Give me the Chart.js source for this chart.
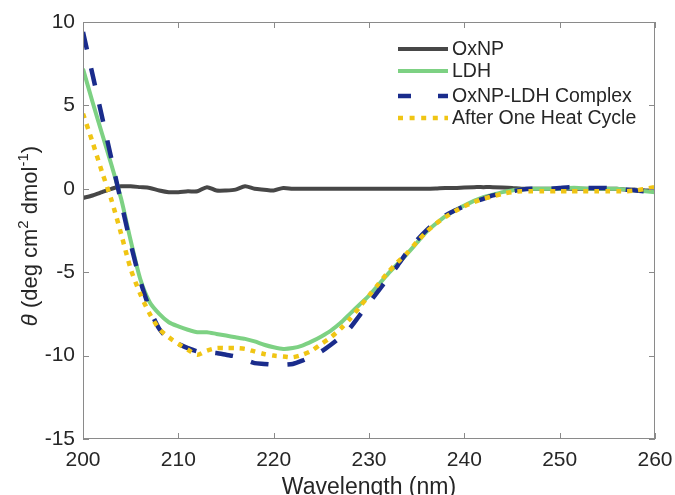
<!DOCTYPE html>
<html>
<head>
<meta charset="utf-8">
<script src="https://cdn.jsdelivr.net/npm/chart.js@4.4.1/dist/chart.umd.min.js"></script>
<style>
  html, body { margin: 0; padding: 0; background: #fff; }
  #wrap { width: 675px; height: 495px; }
</style>
</head>
<body>
<div id="wrap"><canvas id="cd"></canvas></div>
<script>
const wavelength = [
  200, 201, 202, 203, 204, 205, 206, 207, 208, 209,
  210, 211, 212, 213, 214, 215, 216, 217, 218, 219,
  220, 221, 222, 223, 224, 225, 226, 227, 228, 229,
  230, 231, 232, 233, 234, 235, 236, 237, 238, 239,
  240, 241, 242, 243, 244, 245, 246, 247, 248, 249,
  250, 251, 252, 253, 254, 255, 256, 257, 258, 259, 260
];

const oxnp = [
  -0.55, -0.4, -0.2, 0, 0.15, 0.15, 0.1, 0.05, -0.1, -0.2,
  -0.2, -0.15, -0.15, 0.1, -0.1, -0.1, -0.05, 0.15, 0, -0.05,
  -0.1, 0.05, 0, 0, 0, 0, 0, 0, 0, 0,
  0, 0, 0, 0, 0, 0, 0, 0.02, 0.05, 0.05,
  0.08, 0.1, 0.1, 0.1, 0.08, 0.05, 0, 0, 0, 0,
  0, 0, 0, 0, 0, 0, 0, -0.05, -0.05, -0.1, -0.1
];

const ldh = [
  7.2, 5.2, 3.3, 1.4, -0.6, -3.1, -5.4, -6.8, -7.5, -8.0,
  -8.25, -8.45, -8.6, -8.6, -8.7, -8.8, -8.9, -9.0, -9.15, -9.35,
  -9.5, -9.6, -9.55, -9.4, -9.15, -8.85, -8.5, -8.05, -7.5, -6.95,
  -6.4, -5.75, -5.1, -4.5, -3.9, -3.25, -2.6, -2.1, -1.65, -1.3,
  -1.0, -0.72, -0.5, -0.35, -0.2, -0.1, -0.05, 0, 0, 0,
  0, 0.05, 0.05, 0, 0, 0, 0, -0.05, -0.1, -0.15, -0.2
];

const complex = [
  9.4, 6.85, 4.3, 1.75, -0.8, -3.3, -5.5, -7.2, -8.4, -9.0,
  -9.3, -9.55, -9.75, -9.8, -9.85, -9.95, -10.05, -10.25, -10.45, -10.5,
  -10.55, -10.55, -10.5, -10.3, -10.05, -9.75, -9.35, -8.9, -8.35, -7.6,
  -6.85, -6.1, -5.35, -4.6, -3.8, -3.1, -2.5, -2.0, -1.6, -1.3,
  -1.05, -0.8, -0.6, -0.4, -0.25, -0.15, -0.05, 0, 0, 0,
  0.05, 0.1, 0.1, 0.05, 0.05, 0.05, 0, -0.05, -0.1, -0.15, -0.15
];

const heatCycle = [
  4.5, 2.8, 1.0, -0.7, -2.7, -4.8, -6.3, -7.5, -8.4, -8.9,
  -9.3, -9.65, -9.95, -9.7, -9.55, -9.55, -9.55, -9.6, -9.75, -9.9,
  -10.0, -10.05, -10.1, -9.95, -9.7, -9.3, -8.9, -8.4, -7.8, -7.1,
  -6.4, -5.7, -5.0, -4.4, -3.85, -3.2, -2.6, -2.1, -1.7, -1.35,
  -1.05, -0.8, -0.6, -0.45, -0.3, -0.2, -0.15, -0.15, -0.15, -0.15,
  -0.15, -0.15, -0.15, -0.15, -0.15, -0.15, -0.15, -0.15, -0.1, 0, 0.1
];

const seriesNames = ["OxNP", "LDH", "OxNP-LDH Complex", "After One Heat Cycle"];
const xTicks = [200, 210, 220, 230, 240, 250, 260];
const yTicks = [-15, -10, -5, 0, 5, 10];

const FONT = "'Liberation Sans', Arial, Helvetica, sans-serif";
const TEXT = "#262626";
const AXIS = "#8a8a8a";

const pts = (ys) => wavelength.map((x, i) => ({ x, y: ys[i] }));

// frame with inward ticks on all four sides, like the original plot
const framePlugin = {
  id: "frame",
  afterDatasetsDraw(chart) {
    const { ctx, chartArea: a, scales } = chart;
    const len = 6;
    ctx.save();
    ctx.strokeStyle = AXIS;
    ctx.lineWidth = 1;
    ctx.strokeRect(a.left + 0.5, a.top + 0.5, a.right - a.left - 1, a.bottom - a.top - 1);
    ctx.beginPath();
    xTicks.forEach((v) => {
      const px = Math.round(scales.x.getPixelForValue(v)) + 0.5;
      ctx.moveTo(px, a.bottom); ctx.lineTo(px, a.bottom - len);
      ctx.moveTo(px, a.top); ctx.lineTo(px, a.top + len);
    });
    yTicks.forEach((v) => {
      const py = Math.round(scales.y.getPixelForValue(v)) + 0.5;
      ctx.moveTo(a.left, py); ctx.lineTo(a.left + len, py);
      ctx.moveTo(a.right, py); ctx.lineTo(a.right - len, py);
    });
    ctx.stroke();
    ctx.restore();
  },
};

// axis titles (the y title needs an italic theta and superscripts)
const titlePlugin = {
  id: "titles",
  afterDraw(chart) {
    const { ctx, chartArea: a } = chart;
    ctx.save();
    ctx.fillStyle = TEXT;
    ctx.textBaseline = "alphabetic";
    ctx.font = `23px ${FONT}`;
    ctx.textAlign = "center";
    ctx.fillText("Wavelength (nm)", (a.left + a.right) / 2, 494);

    const parts = [
      { t: "\u03B8", f: `italic 22px ${FONT}`, dy: 0 },
      { t: " (deg cm", f: `22px ${FONT}`, dy: 0 },
      { t: "2", f: `15px ${FONT}`, dy: -9 },
      { t: " dmol", f: `22px ${FONT}`, dy: 0 },
      { t: "-1", f: `15px ${FONT}`, dy: -9 },
      { t: ")", f: `22px ${FONT}`, dy: 0 },
    ];
    let total = 0;
    parts.forEach((p) => { ctx.font = p.f; p.w = ctx.measureText(p.t).width; total += p.w; });
    ctx.translate(37, 236);
    ctx.rotate(-Math.PI / 2);
    ctx.textAlign = "left";
    let x = -total / 2;
    parts.forEach((p) => { ctx.font = p.f; ctx.fillText(p.t, x, p.dy); x += p.w; });
    ctx.restore();
  },
};

// legend drawn inside the plot, top right
const legendPlugin = {
  id: "insideLegend",
  afterDraw(chart) {
    const { ctx } = chart;
    const rows = [49, 71, 96, 118];
    ctx.save();
    ctx.font = `19.5px ${FONT}`;
    ctx.textBaseline = "middle";
    ctx.fillStyle = TEXT;
    chart.data.datasets.forEach((ds, i) => {
      const y = rows[i];
      ctx.save();
      ctx.strokeStyle = ds.borderColor;
      ctx.lineWidth = ds.borderWidth;
      ctx.lineCap = "butt";
      ctx.setLineDash(ds.legendDash || []);
      ctx.beginPath();
      ctx.moveTo(398, y);
      ctx.lineTo(448, y);
      ctx.stroke();
      ctx.restore();
      ctx.fillText(ds.label, 452, y + 1);
    });
    ctx.restore();
  },
};

new Chart(document.getElementById("cd"), {
  type: "line",
  data: {
    datasets: [
      {
        label: seriesNames[0], data: pts(oxnp), order: 4,
        borderColor: "#474747", borderWidth: 4,
      },
      {
        label: seriesNames[1], data: pts(ldh), order: 3,
        borderColor: "#7dd183", borderWidth: 4,
      },
      {
        label: seriesNames[2], data: pts(complex), order: 2,
        borderColor: "#1a2c8c", borderWidth: 4.5,
        borderDash: [18, 19], legendDash: [13, 27],
      },
      {
        label: seriesNames[3], data: pts(heatCycle), order: 1,
        borderColor: "#f0c514", borderWidth: 4.5,
        borderDash: [5, 6], legendDash: [5, 6.6],
      },
    ],
  },
  options: {
    responsive: true,
    maintainAspectRatio: false,
    animation: false,
    layout: { padding: { left: 0, top: 22, right: 20, bottom: 0 } },
    elements: {
      point: { radius: 0 },
      line: { tension: 0.25, borderCapStyle: "butt", borderJoinStyle: "round" },
    },
    plugins: {
      legend: { display: false },
      tooltip: { enabled: false },
    },
    scales: {
      x: {
        type: "linear", min: 200, max: 260,
        afterFit: (s) => { s.height = 56; s.paddingLeft = 0; s.paddingRight = 0; },
        afterBuildTicks: (s) => { s.ticks = xTicks.map((v) => ({ value: v })); },
        grid: { display: false, drawTicks: false },
        border: { display: false },
        ticks: { color: TEXT, font: { family: FONT, size: 21 }, padding: 9, maxRotation: 0 },
      },
      y: {
        min: -15, max: 10,
        afterFit: (s) => { s.width = 83; s.paddingTop = 0; s.paddingBottom = 0; },
        afterBuildTicks: (s) => { s.ticks = yTicks.map((v) => ({ value: v })); },
        grid: { display: false, drawTicks: false },
        border: { display: false },
        ticks: { color: TEXT, font: { family: FONT, size: 21 }, padding: 8 },
      },
    },
  },
  plugins: [framePlugin, titlePlugin, legendPlugin],
});
</script>
</body>
</html>
